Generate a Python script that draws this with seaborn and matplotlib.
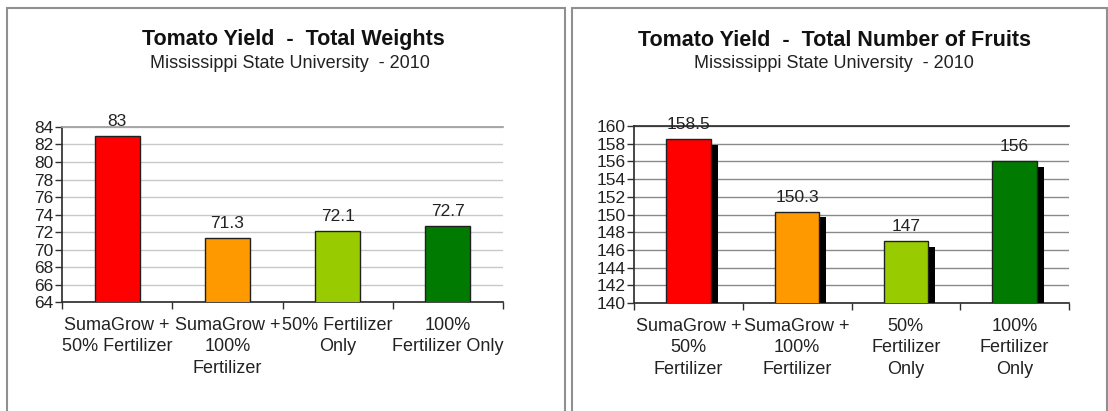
import matplotlib
matplotlib.use("Agg")
import matplotlib.pyplot as plt
import matplotlib.patheffects as pe
from matplotlib.patches import Rectangle
from matplotlib.ticker import FixedLocator
import seaborn as sns
import pandas as pd

# ---- data ----
weight_categories = ["SumaGrow +\n50% Fertilizer", "SumaGrow +\n100%\nFertilizer",
                     "50% Fertilizer\nOnly", "100%\nFertilizer Only"]
weight_values = [83, 71.3, 72.1, 72.7]
weight_labels = ["83", "71.3", "72.1", "72.7"]

fruit_categories = ["SumaGrow +\n50%\nFertilizer", "SumaGrow +\n100%\nFertilizer",
                    "50%\nFertilizer\nOnly", "100%\nFertilizer\nOnly"]
fruit_values = [158.5, 150.3, 147, 156]
fruit_labels = ["158.5", "150.3", "147", "156"]

bar_colors = ["#FF0000", "#FF9900", "#99CC00", "#007A00"]

weight_ticks = list(range(64, 85, 2))
fruit_ticks = list(range(140, 161, 2))

sns.set_theme(style="white")
plt.rcParams["font.family"] = ["Liberation Sans", "DejaVu Sans"]

fig = plt.figure(figsize=(11.08, 4.11), dpi=100)

# panel frames
fig.patches.append(Rectangle((7 / 1108, -0.01), (565 - 7) / 1108, 1 - 8 / 411 + 0.01,
                             transform=fig.transFigure, fill=False, ec="#909090", lw=1.5))
fig.patches.append(Rectangle((572 / 1108, -0.01), (1107 - 572) / 1108, 1 - 8 / 411 + 0.01,
                             transform=fig.transFigure, fill=False, ec="#909090", lw=1.5))

ax1 = fig.add_axes([62 / 1108, 109 / 411, 441 / 1108, 175 / 411])
ax2 = fig.add_axes([634 / 1108, 108 / 411, 435 / 1108, 177 / 411])


def draw(ax, cats, vals, labels, ticks, grid_color, top_color, shadow):
    df = pd.DataFrame({"cat": cats, "val": vals})
    sns.barplot(data=df, x="cat", y="val", hue="cat", palette=bar_colors,
                saturation=1, width=0.41, edgecolor="#202020", linewidth=1.0,
                legend=False, ax=ax, zorder=3)
    ax.set_ylim(ticks[0], ticks[-1])
    ax.set_xlim(-0.5, len(cats) - 0.5)
    ax.set_yticks(ticks)
    ax.yaxis.grid(True, color=grid_color, lw=1.0, zorder=0)
    ax.xaxis.grid(False)
    ax.set_xlabel("")
    ax.set_ylabel("")
    ax.spines["right"].set_visible(False)
    ax.spines["top"].set_color(top_color)
    ax.spines["left"].set_color("#303030")
    ax.spines["bottom"].set_color("#303030")
    ax.tick_params(axis="y", which="major", left=True, length=5, width=1,
                   color="#303030", labelsize=12.5, pad=1, labelcolor="#222222")
    ax.tick_params(axis="x", which="major", bottom=False, labelsize=13,
                   pad=5, labelcolor="#222222")
    ax.xaxis.set_minor_locator(FixedLocator([i + 0.5 for i in range(-1, len(cats))]))
    ax.tick_params(axis="x", which="minor", bottom=True, length=5, width=1,
                   color="#303030")
    for t in ax.get_xticklabels():
        t.set_linespacing(1.32)
    for c, lab in zip(ax.containers, labels):
        ax.bar_label(c, labels=[lab], padding=5, fontsize=12.5, color="#222222")
    if shadow:
        for p in ax.patches:
            p.set_path_effects([pe.SimplePatchShadow(offset=(5, -4),
                                                     shadow_rgbFace="black",
                                                     alpha=1.0),
                                pe.Normal()])


draw(ax1, weight_categories, weight_values, weight_labels, weight_ticks,
     "#C8C8C8", "#A0A0A0", False)
draw(ax2, fruit_categories, fruit_values, fruit_labels, fruit_ticks,
     "#8A8A8A", "#303030", True)

fig.text(293 / 1108, 1 - 40 / 411, "Tomato Yield  -  Total Weights", ha="center",
         va="center", fontsize=15.5, fontweight="bold", color="#111111")
fig.text(290 / 1108, 1 - 64 / 411, "Mississippi State University  - 2010", ha="center",
         va="center", fontsize=13, color="#222222")
fig.text(834 / 1108, 1 - 40 / 411, "Tomato Yield  -  Total Number of Fruits", ha="center",
         va="center", fontsize=15.5, fontweight="bold", color="#111111")
fig.text(834 / 1108, 1 - 64 / 411, "Mississippi State University  - 2010", ha="center",
         va="center", fontsize=13, color="#222222")

fig.savefig("out.png", dpi=100)
